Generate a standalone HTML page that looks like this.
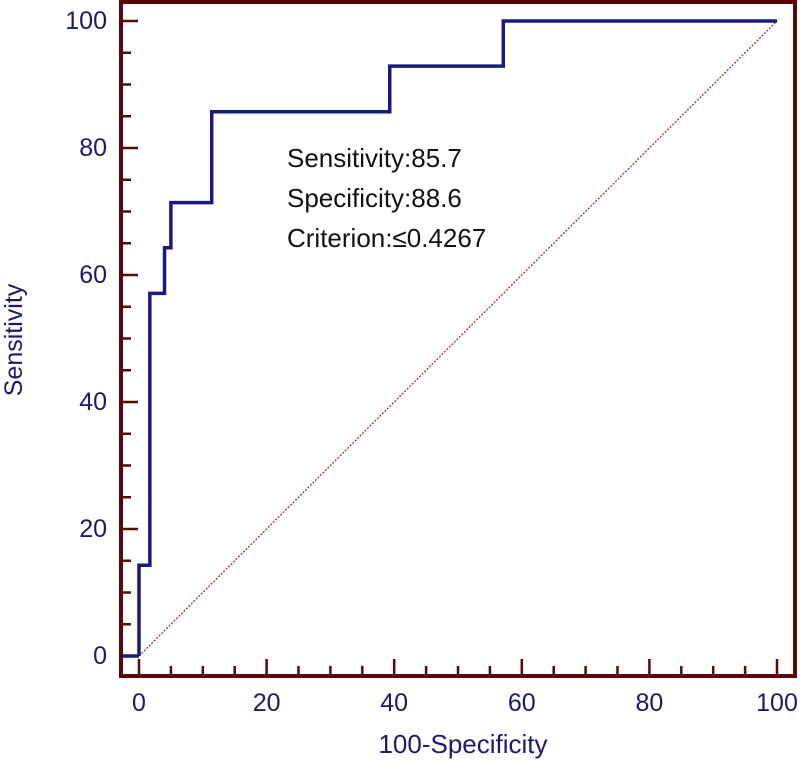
<!DOCTYPE html>
<html><head><meta charset="utf-8"><style>
body{margin:0;background:#fff;}
svg{display:block;font-family:"Liberation Sans","DejaVu Sans",sans-serif;}
</style></head><body>
<svg id="chart" width="800" height="762" viewBox="0 0 800 762">
<rect x="121" y="2" width="674" height="674" fill="none" stroke="#5a0808" stroke-width="4"/>
<g id="axes"></g>
<g id="marks"></g>
<text x="287" y="167" font-size="26" fill="#111">Sensitivity:85.7</text>
<text x="287" y="207" font-size="26" fill="#111">Specificity:88.6</text>
<text x="287" y="247" font-size="26" fill="#111">Criterion:≤0.4267</text>
<text x="463" y="753" font-size="26" fill="#1a1a6e" text-anchor="middle">100-Specificity</text>
<text transform="translate(22,340) rotate(-90)" font-size="25" fill="#1a1a6e" text-anchor="middle">Sensitivity</text>
</svg>
<script>
const fpr = [0, 0, 1.7, 1.7, 4.0, 4.0, 5.0, 5.0, 11.4, 11.4, 39.3, 39.3, 57.1, 57.1, 100];
const tpr = [0, 14.3, 14.3, 57.1, 57.1, 64.3, 64.3, 71.4, 71.4, 85.7, 85.7, 92.9, 92.9, 100, 100];
const tickValues = [0, 20, 40, 60, 80, 100];
const tickLabels = ["0", "20", "40", "60", "80", "100"];
const NS = "http://www.w3.org/2000/svg";
const sx = v => 139 + v * 6.38;
const sy = v => 656 - v * 6.35;
const axes = document.getElementById('axes');
const marks = document.getElementById('marks');
function mk(tag, attrs, parent) {
  const e = document.createElementNS(NS, tag);
  for (const k in attrs) e.setAttribute(k, attrs[k]);
  parent.appendChild(e);
  return e;
}
for (let v = 0; v <= 100; v += 5) {
  const major = v % 20 === 0;
  const len = major ? 16 : 9;
  const tx = mk('line', {x1: sx(v), x2: sx(v), y1: 675, y2: 675 - len, stroke: '#5a0808', 'stroke-width': 2.5}, axes);
  
  
  const ty = mk('line', {x1: 122, x2: 122 + len, y1: sy(v), y2: sy(v), stroke: '#5a0808', 'stroke-width': 2.5}, axes);
  
  
}
tickValues.forEach((v, i) => {
  const lx = mk('text', {x: sx(v), y: 711, 'font-size': 25, fill: '#1a1a6e', 'text-anchor': 'middle'}, axes);
  lx.textContent = tickLabels[i];
  
  
  const ly = mk('text', {x: 107, y: sy(v) + 8, 'font-size': 25, fill: '#1a1a6e', 'text-anchor': 'end'}, axes);
  ly.textContent = tickLabels[i];
  
  
});
const diag = mk('line', {x1: sx(0), y1: sy(0), x2: sx(100), y2: sy(100), stroke: '#902818', 'stroke-width': 1.2, 'stroke-dasharray': '2,1.5'}, marks);


const lead = mk('line', {x1: 122, y1: sy(0), x2: sx(0), y2: sy(0), stroke: '#1a1a7a', 'stroke-width': 3.5}, marks);


const d = fpr.map((v, i) => (i ? 'L' : 'M') + sx(v) + ' ' + sy(tpr[i])).join(' ');
const roc = mk('path', {d: d, fill: 'none', stroke: '#1a1a7a', 'stroke-width': 3.5}, marks);


</script>
</body></html>
